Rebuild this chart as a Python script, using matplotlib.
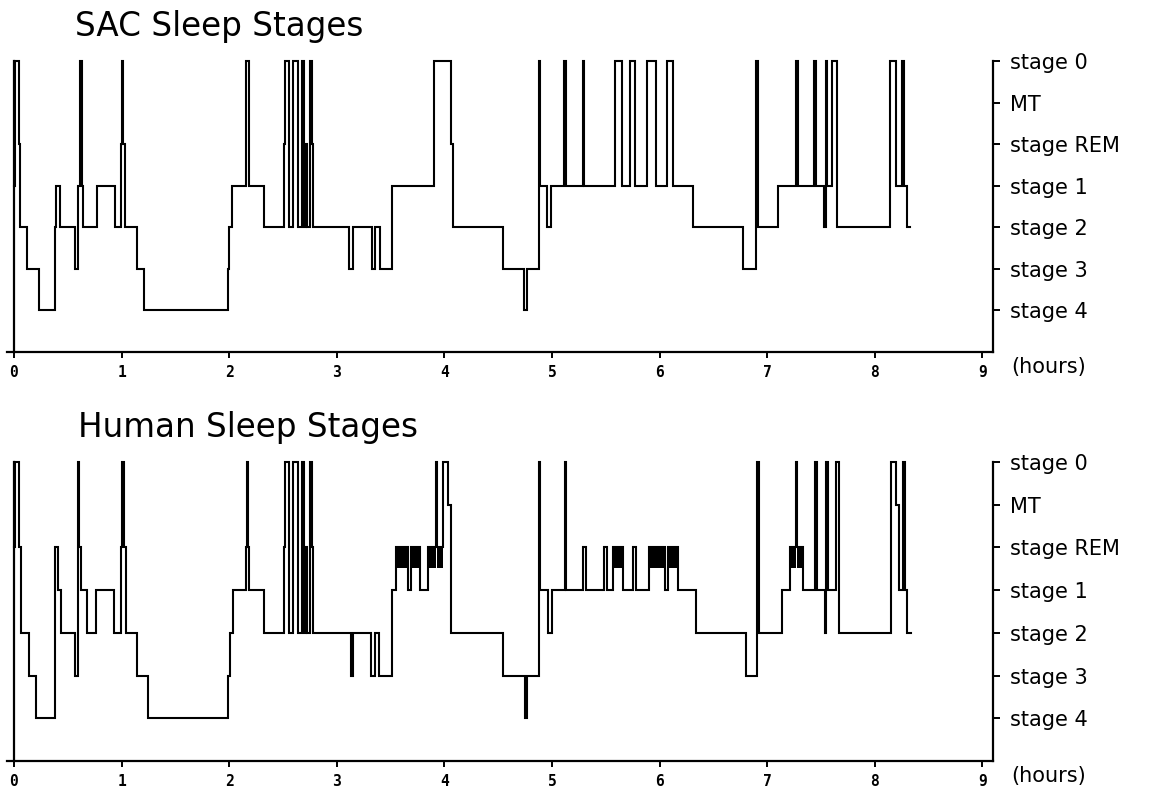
import matplotlib
matplotlib.use('Agg')
import matplotlib.pyplot as plt

# stages from bottom to top of the y scale
stage_codes = ['4', '3', '2', '1', 'R', 'M', '0']
stage_labels = ['stage 4', 'stage 3', 'stage 2', 'stage 1', 'stage REM', 'MT', 'stage 0']
hour_ticks = [0, 1, 2, 3, 4, 5, 6, 7, 8, 9]

# SAC scoring: time (hours) where a stage starts, and the stage
sac_times = [0.000, 0.008, 0.050, 0.060, 0.120, 0.235, 0.380, 0.395, 0.430, 0.567,
             0.598, 0.610, 0.628, 0.644, 0.774, 0.940, 0.995, 1.002, 1.015, 1.035,
             1.140, 1.205, 1.990, 2.003, 2.030, 2.160, 2.180, 2.320, 2.510, 2.522,
             2.560, 2.595, 2.640, 2.675, 2.695, 2.715, 2.728, 2.752, 2.768, 2.780,
             3.110, 3.150, 3.330, 3.358, 3.398, 3.510, 3.905, 4.060, 4.078, 4.545,
             4.745, 4.765, 4.878, 4.892, 4.955, 4.995, 5.115, 5.130, 5.285, 5.300,
             5.590, 5.650, 5.722, 5.770, 5.885, 5.968, 6.070, 6.130, 6.310, 6.780,
             6.900, 6.915, 7.100, 7.268, 7.285, 7.435, 7.452, 7.525, 7.543, 7.555,
             7.608, 7.650, 8.140, 8.200, 8.250, 8.268, 8.300]
sac_stages = ['1', '0', 'R', '2', '3', '4', '2', '1', '2', '3',
              '1', '0', '1', '2', '1', '2', 'R', '0', 'R', '2',
              '3', '4', '3', '2', '1', '0', '1', '2', 'R', '0',
              '2', '0', '2', '0', '2', 'R', '2', '0', 'R', '2',
              '3', '2', '3', '2', '3', '1', '0', 'R', '2', '3',
              '4', '3', '0', '1', '2', '1', '0', '1', '0', '1',
              '0', '1', '0', '1', '0', '1', '0', '1', '2', '3',
              '0', '2', '1', '0', '1', '0', '1', '2', '0', '1',
              '0', '2', '0', '1', '0', '1', '2']
sac_end = 8.33

# human scoring
human_times = [0.000, 0.008, 0.050, 0.062, 0.135, 0.200, 0.381, 0.405, 0.440, 0.570,
               0.596, 0.606, 0.620, 0.675, 0.760, 0.928, 0.995, 1.002, 1.018, 1.040,
               1.140, 1.250, 1.990, 2.005, 2.035, 2.155, 2.162, 2.175, 2.188, 2.320,
               2.508, 2.520, 2.560, 2.595, 2.640, 2.675, 2.695, 2.715, 2.728, 2.748,
               2.755, 2.768, 2.780, 3.130, 3.155, 3.320, 3.355, 3.395, 3.515, 3.555,
               3.665, 3.692, 3.772, 3.850, 3.920, 3.935, 3.990, 4.035, 4.062, 4.545,
               4.748, 4.768, 4.876, 4.893, 4.962, 4.998, 5.118, 5.132, 5.290, 5.320,
               5.480, 5.510, 5.570, 5.660, 5.755, 5.785, 5.905, 6.055, 6.075, 6.175,
               6.335, 6.800, 6.905, 6.925, 7.140, 7.215, 7.268, 7.280, 7.335, 7.445,
               7.468, 7.540, 7.550, 7.565, 7.638, 7.668, 8.150, 8.200, 8.225, 8.260,
               8.285, 8.305]
human_stages = ['R', '0', 'R', '2', '3', '4', 'R', '1', '2', '3',
                '0', 'R', '1', '2', '1', '2', 'R', '0', 'R', '2',
                '3', '4', '3', '2', '1', 'R', '0', 'R', '1', '2',
                'R', '0', '2', '0', '2', '0', '2', 'R', '2', 'R',
                '0', 'R', '2', '3', '2', '3', '2', '3', '1', 'R',
                '1', 'R', '1', 'R', '0', 'R', '0', 'M', '2', '3',
                '4', '3', '0', '1', '2', '1', '0', '1', 'R', '1',
                'R', '1', 'R', '1', 'R', '1', 'R', '1', 'R', '1',
                '2', '3', '0', '2', '1', 'R', '0', 'R', '1', '0',
                '1', '2', '0', '1', '0', '2', '0', 'M', '1', '0',
                '1', '2']
human_end = 8.34

level = {c: i for i, c in enumerate(stage_codes)}


def draw_panel(ax, times, stages, end_time):
    y = [level[s] for s in stages]
    ax.step(times + [end_time], y + [y[-1]], where='post', color='black',
            lw=1.5, clip_on=False, solid_joinstyle='miter')

    # longer REM episodes look like solid blocks in the original
    for i, s in enumerate(stages):
        t0 = times[i]
        t1 = times[i + 1] if i + 1 < len(times) else end_time
        if s == 'R' and t1 - t0 >= 0.04:
            ax.fill_between([t0, t1], level['R'] - 0.48, level['R'],
                            color='black', lw=0)

    ax.set_xlim(-0.065, 9.1)
    ax.set_ylim(-1, 6)
    ax.spines['top'].set_visible(False)
    ax.spines['left'].set_position(('data', 0))
    for sp in ['left', 'right', 'bottom']:
        ax.spines[sp].set_linewidth(1.6)

    ax.yaxis.tick_right()
    ax.set_yticks(range(len(stage_labels)))
    ax.set_yticklabels(stage_labels)
    ax.tick_params(axis='y', direction='out', length=5, width=1.4, pad=7,
                   labelsize=15)

    ax.set_xticks(hour_ticks)
    ax.set_xticklabels([str(h) for h in hour_ticks], fontweight='bold',
                       fontsize=10.5, family='DejaVu Sans Mono')
    ax.tick_params(axis='x', direction='out', length=4, width=1.4, pad=5)

    ax.annotate('(hours)', xy=(1.0, -1), xycoords=('axes fraction', 'data'),
                xytext=(13, -11), textcoords='offset points',
                ha='left', va='center', fontsize=15)


fig = plt.figure(figsize=(11.5, 7.9), dpi=100)
ax_top = fig.add_axes([0.00609, 0.5544, 0.8574, 0.3684])
ax_bot = fig.add_axes([0.00609, 0.0367, 0.8574, 0.3785])

draw_panel(ax_top, sac_times, sac_stages, sac_end)
draw_panel(ax_bot, human_times, human_stages, human_end)

fig.text(75 / 1150, 0.9544, 'SAC Sleep Stages', fontsize=23.5, va='baseline')
fig.text(78 / 1150, 0.4468, 'Human Sleep Stages', fontsize=23.5, va='baseline')

fig.savefig('out.png', dpi=100)
plt.close()
